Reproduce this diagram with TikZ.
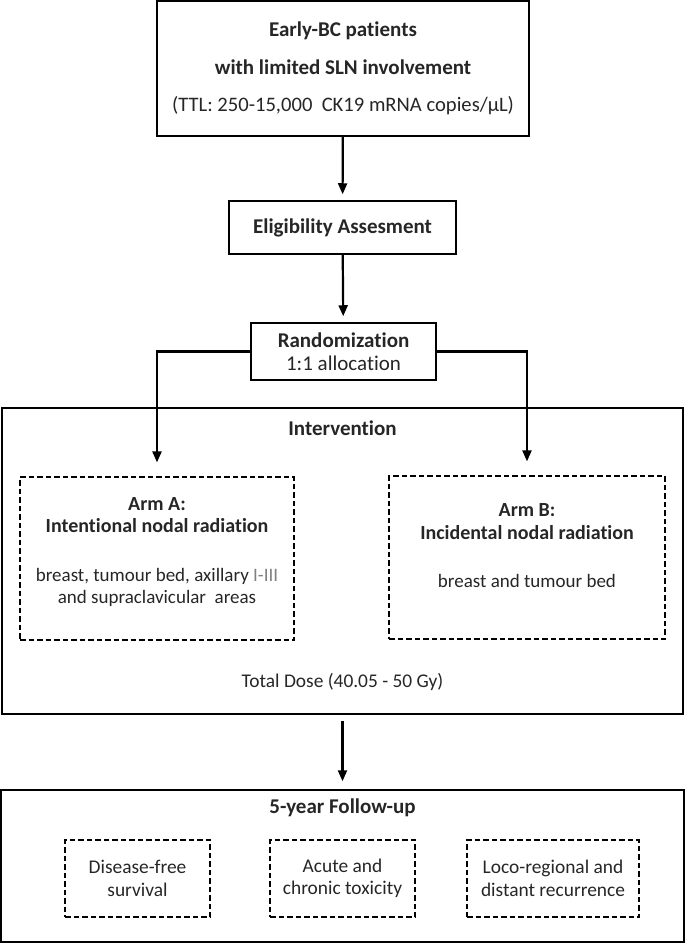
\documentclass[tikz,border=0pt]{standalone}
\usepackage{fontspec}
\setmainfont{Carlito}[Ligatures=NoCommon]
\usetikzlibrary{arrows.meta}
\begin{document}
\begin{tikzpicture}[x=1pt, y=-1pt,
    box/.style={draw, rectangle, line width=1.5pt, inner sep=0pt, align=center},
    dashbox/.style={draw, rectangle, line width=1.2pt, dash pattern=on 5.5pt off 3pt, inner sep=0pt, align=center},
    flow/.style={line width=2.2pt, -{Triangle[length=11pt,width=9pt]}},
    txt/.style={align=center, inner sep=0pt},
    bigtxt/.style={font=\fontsize{21}{23}\selectfont},
    armtxt/.style={font=\fontsize{19}{22.5}\selectfont},
    every node/.style={text=black!85, font=\fontsize{19.4}{22.5}\selectfont}]
  \useasboundingbox (0,0) rectangle (685,944);
  % patients, eligibility, randomization
  \node[box, minimum width=372pt, minimum height=135pt, font=\fontsize{21}{37.5}\selectfont] (patients) at (343,68.5)
    {\textbf{Early-BC patients}\\\textbf{with limited SLN involvement}\\{\fontsize{20.6}{37.5}\selectfont(TTL: 250-15,000~~CK19 mRNA copies/µL)}};
  \node[box, bigtxt, minimum width=227pt, minimum height=53pt] (elig) at (342.5,227.5) {\textbf{Eligibility Assesment}};
  \node[box, bigtxt, minimum width=185pt, minimum height=57pt] (rand) at (343.5,351.5)
    {\textbf{Randomization}\\1:1 allocation};
  % intervention
  \node[box, minimum width=681pt, minimum height=306pt] (interv) at (342.5,561) {};
  \node[txt, bigtxt] (intervtitle) at (342.5,428) {\textbf{Intervention}};
  \node[dashbox, minimum width=274pt, minimum height=163pt] (armA) at (157,558.5) {};
  \node[txt, armtxt] (armAtext) at (157,552)
    {\textbf{\fontsize{20}{22.5}\selectfont Arm A:}\\\textbf{\fontsize{20}{22.5}\selectfont Intentional nodal radiation}\\[26pt]breast, tumour bed, axillary \textcolor{gray}{I-III}\\and supraclavicular~ areas};
  \node[dashbox, minimum width=276pt, minimum height=163pt] (armB) at (527,557.5) {};
  \node[txt, armtxt] (armBtext) at (527,546)
    {\textbf{\fontsize{20}{22.5}\selectfont Arm B:}\\\textbf{\fontsize{20}{22.5}\selectfont Incidental nodal radiation}\\[26pt]breast and tumour bed};
  \node[txt] (dose) at (342.5,682) {Total Dose (40.05 - 50 Gy)};
  % follow-up
  \node[box, minimum width=683pt, minimum height=152pt] (follow) at (342.5,866) {};
  \node[txt, bigtxt] (followtitle) at (342.5,808) {\textbf{5-year Follow-up}};
  \node[dashbox, minimum width=145pt, minimum height=77pt] (dfs) at (137.5,878.5) {Disease-free\\survival};
  \node[dashbox, minimum width=145pt, minimum height=77pt] (tox) at (342.5,878.5) {Acute and\\chronic toxicity};
  \node[dashbox, minimum width=172pt, minimum height=77pt] (recur) at (553,878.5) {Loco-regional and\\distant recurrence};
  % connectors
  \draw[flow, shorten >=6pt] (patients) -- (elig);
  \draw[flow, shorten >=6pt] (elig) -- (rand);
  \draw[flow] (rand.west) -| ([yshift=14pt]armA.north);
  \draw[flow] (rand.east) -| ([yshift=14pt]armB.north);
  \draw[flow, shorten <=6pt, shorten >=8pt] (interv) -- (follow);
\end{tikzpicture}
\end{document}
